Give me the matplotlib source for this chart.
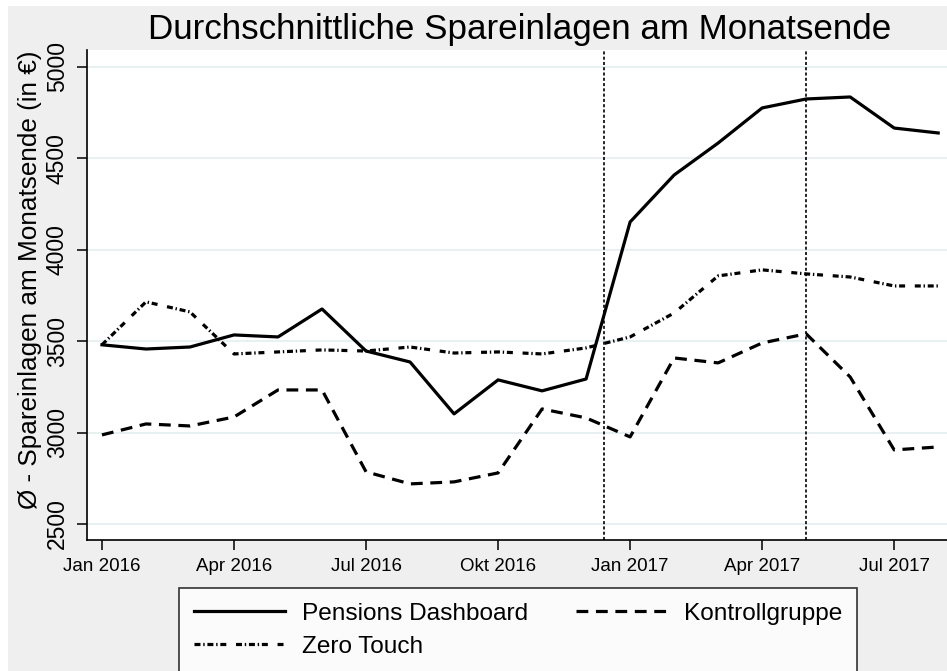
import matplotlib
matplotlib.use("Agg")
import matplotlib.pyplot as plt
from matplotlib.patches import Rectangle

plt.rcParams['font.family'] = ['Liberation Sans', 'DejaVu Sans']
plt.rcParams['lines.scale_dashes'] = False

# months Jan 2016 .. Aug 2017
months = list(range(20))
tick_pos = [0, 3, 6, 9, 12, 15, 18]
tick_labels = ['Jan 2016', 'Apr 2016', 'Jul 2016', 'Okt 2016', 'Jan 2017', 'Apr 2017', 'Jul 2017']

dashboard = [3480, 3457, 3468, 3534, 3523, 3676, 3446, 3386, 3102, 3288, 3228, 3293,
             4152, 4409, 4584, 4776, 4825, 4836, 4666, 4639]
kontroll = [2987, 3047, 3036, 3085, 3233, 3233, 2785, 2719, 2730, 2779, 3129, 3080,
            2976, 3408, 3381, 3490, 3540, 3304, 2905, 2921]
zero_touch = [3480, 3715, 3660, 3430, 3441, 3452, 3446, 3468, 3435, 3441, 3430, 3463,
              3523, 3654, 3857, 3890, 3868, 3851, 3802, 3802]
vlines = [11.4, 16.0]
yticks = [2500, 3000, 3500, 4000, 4500, 5000]

fig = plt.figure(figsize=(9.47, 6.71), dpi=100)
fig.patch.set_facecolor('white')
fig.add_artist(Rectangle((8 / 947, 0), 1, 1 - 6 / 671, transform=fig.transFigure,
                         facecolor='#efefef', edgecolor='none', zorder=-1))

ax = fig.add_axes([87 / 947, 1 - 540 / 671, 1 - 87 / 947, 490 / 671])
ax.set_facecolor('white')

lw = 2.3
ax.plot(months, dashboard, color='black', lw=lw, ls='-', label='Pensions Dashboard',
        solid_joinstyle='round', zorder=3)
ax.plot(months, kontroll, color='black', lw=lw, ls=(0, (8.5, 5.5)), label='Kontrollgruppe',
        dash_joinstyle='round', zorder=3)
ax.plot(months, zero_touch, color='black', lw=lw,
        ls=(0, (4.3, 2, 1, 2, 4.3, 2, 1, 2, 4.3, 7)), label='Zero Touch',
        dash_joinstyle='round', zorder=3)

for v in vlines:
    ax.axvline(v, color='black', lw=1.2, ls=(0, (2.2, 1.6)), zorder=2)

ax.set_xlim(-0.34, 19.2)
ax.set_ylim(2412, 5093)
ax.set_yticks(yticks)
ax.set_yticklabels([str(t) for t in yticks], rotation=90, va='center')
ax.set_xticks(tick_pos)
ax.set_xticklabels(tick_labels)
ax.grid(axis='y', color='#e6eff1', lw=1.3, zorder=0)
ax.tick_params(axis='y', length=7, width=1.1, labelsize=16.5, pad=6)
ax.tick_params(axis='x', length=7, width=1.1, labelsize=13.5, pad=6)
for s in ['top', 'right']:
    ax.spines[s].set_visible(False)
for s in ['left', 'bottom']:
    ax.spines[s].set_linewidth(1.2)
    ax.spines[s].set_color('black')

fig.text(30 / 947, 1 - 280 / 671, 'Ø - Spareinlagen am Monatsende (in €)', rotation=90,
         ha='center', va='center', fontsize=18.8)
fig.text(520 / 947, 1 - 39 / 671, 'Durchschnittliche Spareinlagen am Monatsende',
         ha='center', va='baseline', fontsize=25.2)

h, l = ax.get_legend_handles_labels()
order = [0, 2, 1]
leg = fig.legend([h[i] for i in order], [l[i] for i in order], ncol=2,
                 loc='upper left', bbox_to_anchor=(179 / 947, 1 - 588 / 671),
                 borderaxespad=0, fontsize=17.6, handlelength=3.75, handletextpad=0.68,
                 columnspacing=1.95, labelspacing=0.45, borderpad=0.6,
                 fancybox=False, frameon=True)
leg.get_frame().set_edgecolor('black')
leg.get_frame().set_linewidth(1.2)

fig.savefig('out.png', dpi=100, facecolor=fig.get_facecolor())
